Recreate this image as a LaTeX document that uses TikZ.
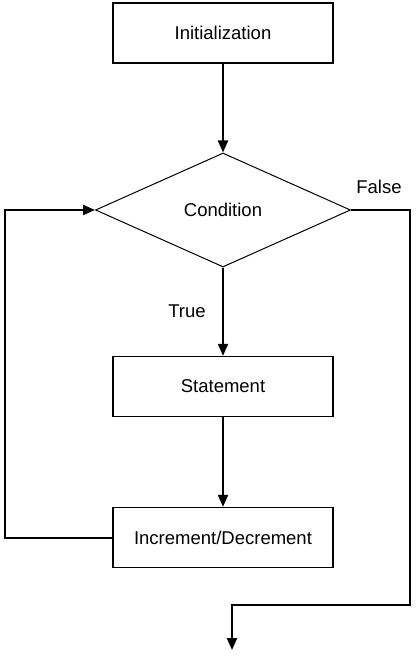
\documentclass[tikz,border=0pt]{standalone}
\usepackage{fontspec}
\setmainfont{Liberation Sans}
\usetikzlibrary{shapes.geometric,arrows.meta}

\begin{document}
\begin{tikzpicture}[x=1pt,y=-1pt,
    box/.style={draw,line width=1.3pt,minimum width=220pt,minimum height=60pt,
                inner sep=0pt,font=\fontsize{18.5}{22}\selectfont},
    cond/.style={draw,diamond,line width=1pt,minimum width=255pt,minimum height=114pt,
                 shape aspect=2.24,inner sep=0pt,font=\fontsize{18.5}{22}\selectfont},
    flow/.style={-{Triangle[length=12pt,width=10pt]},line width=2pt},
    lbl/.style={font=\fontsize{18.5}{22}\selectfont},
  ]
    \useasboundingbox (0,0) rectangle (416,660);

    % Blocks
    \node[box]  (init) at (223,33)    {Initialization};
    \node[cond] (test) at (223,210)   {Condition};
    \node[box]  (stmt) at (223,386.5) {Statement};
    \node[box]  (incr) at (223,537.5) {Increment/Decrement};

    % Labels
    \node[lbl] (lfalse) at (379,187) {False};
    \node[lbl] (ltrue)  at (187,311) {True};

    % Turning points
    \coordinate (rtop) at (410,210);
    \coordinate (rbot) at (410,605);
    \coordinate (out)  at (232,605);
    \coordinate (exit) at (232,650);
    \coordinate (lbot) at (5,537.5);
    \coordinate (ltop) at (5,210);

    % Connectors
    \draw[flow] (init) -- (test);
    \draw[flow] (test) -- (stmt);
    \draw[flow] (stmt) -- (incr);
    \draw[flow] (incr.west) -- (lbot) -- (ltop) -- (test.west);
    \draw[flow] (test.east) -- (rtop) -- (rbot) -- (out) -- (exit);

\end{tikzpicture}
\end{document}
